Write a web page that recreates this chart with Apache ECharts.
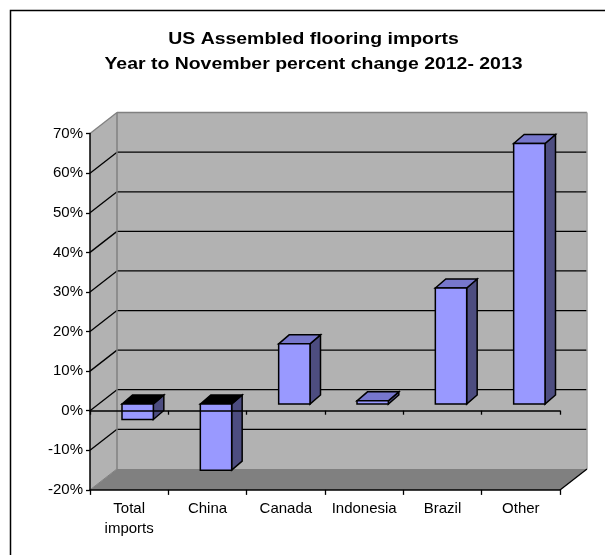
<!DOCTYPE html>
<html>
<head>
<meta charset="utf-8">
<style>
html, body { margin: 0; padding: 0; background: #fff; }
#main { width: 605px; height: 555px; }
</style>
<script src="https://cdn.jsdelivr.net/npm/echarts@6/dist/echarts.min.js"></script>
</head>
<body>
<div id="main"></div>
<script>
var titleText = 'US Assembled flooring imports\nYear to November percent change 2012- 2013';
var categories = ['Total\nimports', 'China', 'Canada', 'Indonesia', 'Brazil', 'Other'];
var changes = [-3.9, -16.7, 15.2, 0.8, 29.3, 65.8];
var yTicks = [-20, -10, 0, 10, 20, 30, 40, 50, 60, 70];

var fontName = '"Liberation Sans", Arial, sans-serif';
// depth of the fake 3d box, in pixels
var wallDx = 27, wallDy = 21;
var barShiftDx = 8.5, barShiftDy = 6.7, barDx = 10.5, barDy = 9;

var chart = echarts.init(document.getElementById('main'));

function poly(points, fill, stroke, width) {
    return {
        type: 'polygon',
        shape: { points: points },
        style: { fill: fill, stroke: stroke || null, lineWidth: width || 0, lineJoin: 'miter' }
    };
}

function seg(x1, y1, x2, y2, color, width) {
    return {
        type: 'line',
        shape: { x1: x1, y1: y1, x2: x2, y2: y2 },
        style: { stroke: color, lineWidth: width }
    };
}

function renderWalls(params, api) {
    var box = params.coordSys;
    var x0 = box.x, x1 = box.x + box.width;
    var yLow = api.coord([0, yTicks[0]])[1];
    var yHigh = api.coord([0, yTicks[yTicks.length - 1]])[1];
    var out = [
        poly([[x0 + wallDx, yHigh - wallDy], [x1 + wallDx, yHigh - wallDy], [x1 + wallDx, yLow - wallDy], [x0 + wallDx, yLow - wallDy]], '#b2b2b2'),
        poly([[x0, yHigh], [x0 + wallDx, yHigh - wallDy], [x0 + wallDx, yLow - wallDy], [x0, yLow]], '#b2b2b2'),
        poly([[x0, yLow], [x1, yLow], [x1 + wallDx, yLow - wallDy], [x0 + wallDx, yLow - wallDy]], '#808080')
    ];
    yTicks.forEach(function (t) {
        if (t === yTicks[0] || t === yTicks[yTicks.length - 1]) return;
        var y = api.coord([0, t])[1];
        out.push(seg(x0, y, x0 + wallDx, y - wallDy, '#000', 1.3));
        out.push(seg(x0 + wallDx, y - wallDy, x1 + wallDx, y - wallDy, '#000', 1.3));
    });
    // gray edges of the box
    out.push(seg(x0, yHigh, x0 + wallDx, yHigh - wallDy, '#808080', 1.3));
    out.push(seg(x0 + wallDx, yHigh - wallDy, x1 + wallDx, yHigh - wallDy, '#808080', 1.5));
    out.push(seg(x0 + wallDx, yHigh - wallDy, x0 + wallDx, yLow - wallDy, '#808080', 1.5));
    out.push(seg(x1 + wallDx, yHigh - wallDy, x1 + wallDx, yLow - wallDy, '#a0a0a0', 1.5));
    out.push(seg(x0, yLow, x0 + wallDx, yLow - wallDy, '#808080', 1));
    out.push(seg(x1, yLow, x1 + wallDx, yLow - wallDy, '#000', 1.3));
    return { type: 'group', children: out };
}

function renderBar(params, api) {
    var v = api.value(1);
    var base = api.coord([api.value(0), 0]);
    var end = api.coord([api.value(0), v]);
    var w = api.size([1, 0])[0] * 0.4;
    var left = base[0] + barShiftDx - w / 2;
    var right = left + w;
    var yBase = base[1] - barShiftDy;
    var yEnd = end[1] - barShiftDy;
    var yTop = Math.min(yBase, yEnd);
    var yBot = Math.max(yBase, yEnd);
    var topFill = v < 0 ? '#000' : '#7777cc';
    var line = '#000';
    return {
        type: 'group',
        children: [
            poly([[right, yTop], [right + barDx, yTop - barDy], [right + barDx, yBot - barDy], [right, yBot]], '#4d4d80', line, 1.5),
            poly([[left, yTop], [left + barDx, yTop - barDy], [right + barDx, yTop - barDy], [right, yTop]], topFill, line, 1.5),
            poly([[left, yTop], [right, yTop], [right, yBot], [left, yBot]], '#9999ff', line, 1.5)
        ]
    };
}

var option = {
    animation: false,
    backgroundColor: '#fff',
    textStyle: { fontFamily: fontName },
    grid: { left: 90, right: 45, top: 133.6, bottom: 65.1 },
    xAxis: [{
        type: 'category',
        data: categories,
        position: 'bottom',
        z: 5,
        axisLine: { onZero: false, lineStyle: { color: '#000', width: 1.5 } },
        axisTick: { show: true, alignWithLabel: false, length: 5, lineStyle: { color: '#000', width: 1.3 } },
        axisLabel: { color: '#000', fontSize: 15, lineHeight: 20, margin: 9, fontFamily: fontName, interval: 0 },
        splitLine: { show: false }
    }, {
        type: 'category',
        data: categories,
        position: 'top',
        z: 5,
        axisLine: { onZero: true, lineStyle: { color: '#000', width: 1.5 } },
        axisTick: { show: true, inside: true, length: 4, lineStyle: { color: '#000', width: 1.3 } },
        axisLabel: { show: false },
        splitLine: { show: false }
    }],
    yAxis: {
        type: 'value',
        min: -20,
        max: 70,
        interval: 10,
        z: 5,
        axisLine: { show: true, onZero: false, lineStyle: { color: '#000', width: 1.5 } },
        axisTick: { show: true, length: 4, lineStyle: { color: '#000', width: 1.3 } },
        axisLabel: { color: '#000', fontSize: 15, margin: 7, fontFamily: fontName, formatter: '{value}%' },
        splitLine: { show: false }
    },
    series: [{
        type: 'custom',
        name: 'walls',
        coordinateSystem: 'cartesian2d',
        renderItem: renderWalls,
        data: [[0, 0]],
        silent: true,
        z: 1
    }, {
        type: 'custom',
        name: 'percent change',
        coordinateSystem: 'cartesian2d',
        renderItem: renderBar,
        encode: { x: 0, y: 1 },
        data: changes.map(function (v, i) { return [i, v]; }),
        z: 2
    }],
    graphic: [{
        type: 'polyline',
        shape: { points: [[10.5, 555], [10.5, 10.5], [605, 10.5]] },
        style: { fill: null, stroke: '#000', lineWidth: 1.5 },
        silent: true
    }, {
        // the original title is set wide, so stretch it sideways
        type: 'text',
        x: 313.5,
        y: 26.5,
        scaleX: 1.178,
        silent: true,
        style: {
            text: titleText,
            fill: '#000',
            fontFamily: fontName,
            fontSize: 16.5,
            fontWeight: 'bold',
            lineHeight: 25,
            align: 'center',
            verticalAlign: 'top'
        }
    }]
};

chart.setOption(option);
</script>
</body>
</html>
